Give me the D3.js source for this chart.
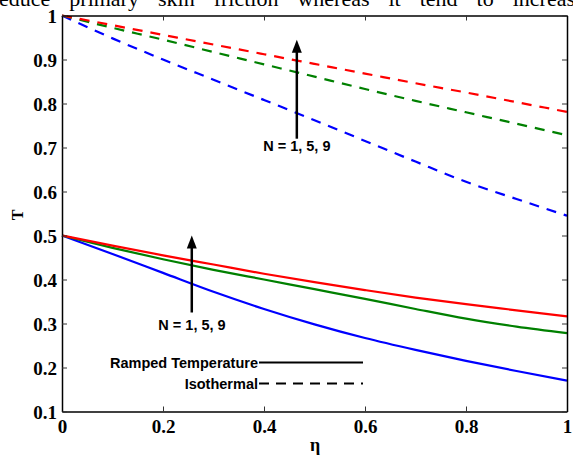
<!DOCTYPE html>
<html><head><meta charset="utf-8">
<script src="https://cdn.jsdelivr.net/npm/d3@7"></script>
<style>html,body{margin:0;padding:0;background:#fff;}svg{display:block;}</style>
</head><body>
<svg id="chart" width="573" height="457"></svg>
<script>
const eta = [0, 0.1, 0.2, 0.3, 0.4, 0.5, 0.6, 0.7, 0.8, 0.9, 1.0];
// Isothermal (dashed)
const isoN1 = [1, 0.948, 0.900, 0.854, 0.808, 0.762, 0.715, 0.668, 0.622, 0.583, 0.545];
const isoN5 = [1, 0.972, 0.945, 0.917, 0.889, 0.861, 0.833, 0.806, 0.780, 0.754, 0.728];
const isoN9 = [1, 0.978, 0.956, 0.934, 0.912, 0.890, 0.868, 0.846, 0.825, 0.803, 0.781];
// Ramped temperature (solid)
const rampN1 = [0.5, 0.458, 0.415, 0.372, 0.333, 0.298, 0.267, 0.240, 0.215, 0.192, 0.170];
const rampN5 = [0.5, 0.472, 0.446, 0.422, 0.400, 0.378, 0.356, 0.333, 0.311, 0.293, 0.278];
const rampN9 = [0.5, 0.477, 0.455, 0.434, 0.413, 0.394, 0.376, 0.359, 0.344, 0.330, 0.316];
const xTicks = [0, 0.2, 0.4, 0.6, 0.8, 1];
const xTickLabels = ["0", "0.2", "0.4", "0.6", "0.8", "1"];
const yTicks = [0.1, 0.2, 0.3, 0.4, 0.5, 0.6, 0.7, 0.8, 0.9, 1];
const yTickLabels = ["0.1", "0.2", "0.3", "0.4", "0.5", "0.6", "0.7", "0.8", "0.9", "1"];
const seriesNames = ["N = 1", "N = 5", "N = 9"];
const colors = ["#0000ff", "#008000", "#ff0000"];
const annotation = "N = 1, 5, 9";
const legendLabels = ["Ramped Temperature", "Isothermal"];
const headerText = "educe primary skin friction whereas it tend to increas";

const svg = d3.select("#chart");
const L = 62, T = 15.5, W = 505, H = 396;
const x = d3.scaleLinear().domain([0, 1]).range([L, L + W]);
const y = d3.scaleLinear().domain([0.1, 1]).range([T + H, T]);
const serif = "Liberation Serif, Times New Roman, serif";
const sans = "Liberation Sans, Arial, sans-serif";

// header text from the paper (cut off at the top)
const hdr = svg.append("text").attr("x", -1).attr("y", 6)
  .attr("font-family", serif).attr("font-size", 22).text(headerText);
const hl = hdr.node().getComputedTextLength();
const nSp = headerText.split(" ").length - 1;
hdr.attr("word-spacing", ((576 - hl) / nSp).toFixed(2));

svg.append("rect").attr("x", L).attr("y", T).attr("width", W).attr("height", H)
  .attr("fill", "#fff");

const line = d3.line().x((d, i) => x(eta[i])).y(d => y(d)).curve(d3.curveMonotoneX);

const iso = [isoN1, isoN5, isoN9];
const ramp = [rampN1, rampN5, rampN9];
iso.forEach((s, k) => {
  svg.append("path").datum(s).attr("d", line).attr("fill", "none")
    .attr("stroke", colors[k]).attr("stroke-width", 2.2).attr("stroke-dasharray", "10,8");
});
ramp.forEach((s, k) => {
  svg.append("path").datum(s).attr("d", line).attr("fill", "none")
    .attr("stroke", colors[k]).attr("stroke-width", 2.2);
});

// axes frame
const tickLen = 5;
const axB = svg.append("g").attr("transform", `translate(0,${T + H})`)
  .call(d3.axisBottom(x).tickValues(xTicks).tickSizeInner(-tickLen).tickSizeOuter(0)
    .tickPadding(9).tickFormat((d, i) => xTickLabels[i]));
const axT = svg.append("g").attr("transform", `translate(0,${T})`)
  .call(d3.axisTop(x).tickValues(xTicks).tickSizeInner(-tickLen).tickSizeOuter(0).tickFormat(""));
const axL = svg.append("g").attr("transform", `translate(${L},0)`)
  .call(d3.axisLeft(y).tickValues(yTicks).tickSizeInner(-tickLen).tickSizeOuter(0)
    .tickPadding(8).tickFormat((d, i) => yTickLabels[i]));
const axR = svg.append("g").attr("transform", `translate(${L + W},0)`)
  .call(d3.axisRight(y).tickValues(yTicks).tickSizeInner(-tickLen).tickSizeOuter(0).tickFormat(""));
[axB, axT, axL, axR].forEach(g => {
  g.select(".domain").attr("stroke", "#000").attr("stroke-width", 1.5);
  g.selectAll(".tick line").attr("stroke", "#333").attr("stroke-width", 1);
  g.selectAll("text").attr("font-family", serif)
    .attr("font-size", 19).attr("font-weight", "bold").attr("fill", "#000");
});
axB.selectAll("text").attr("dy", "0.68em");
axL.selectAll("text").attr("dx", "3").attr("dy", "0.36em");

// axis titles
svg.append("text").attr("x", 315).attr("y", 451).attr("text-anchor", "middle")
  .attr("font-family", serif).attr("font-size", 18)
  .attr("font-weight", "bold").text("η");
svg.append("text").attr("transform", "translate(23,215) rotate(-90)").attr("text-anchor", "middle")
  .attr("font-family", serif).attr("font-size", 16)
  .attr("font-weight", "bold").text("T");

// arrows
function arrow(xv, yBot, yTop) {
  svg.append("line").attr("x1", x(xv)).attr("x2", x(xv)).attr("y1", y(yBot)).attr("y2", y(yTop) + 10)
    .attr("stroke", "#000").attr("stroke-width", 2.5);
  svg.append("path").attr("d", `M${x(xv) - 5},${y(yTop) + 13} L${x(xv)},${y(yTop)} L${x(xv) + 5},${y(yTop) + 13} Z`)
    .attr("fill", "#000");
}
arrow(0.465, 0.72, 0.945);
arrow(0.257, 0.325, 0.5);

svg.append("text").attr("x", x(0.465)).attr("y", 151).attr("text-anchor", "middle")
  .attr("font-family", sans).attr("font-size", 14.5).attr("font-weight", "bold").text(annotation);
svg.append("text").attr("x", 192).attr("y", 330).attr("text-anchor", "middle")
  .attr("font-family", sans).attr("font-size", 14.5).attr("font-weight", "bold").text(annotation);

// legend
const legY = [362.5, 383.5];
legendLabels.forEach((lab, i) => {
  svg.append("text").attr("x", 258).attr("y", legY[i] + 5).attr("text-anchor", "end")
    .attr("font-family", sans).attr("font-size", 14.5).attr("font-weight", "bold")
    .text(lab);
  svg.append("line").attr("x1", 259).attr("x2", 363).attr("y1", legY[i]).attr("y2", legY[i])
    .attr("stroke", "#000").attr("stroke-width", 2.2)
    .attr("stroke-dasharray", i === 1 ? "10,7" : null);
});
</script>
</body></html>
